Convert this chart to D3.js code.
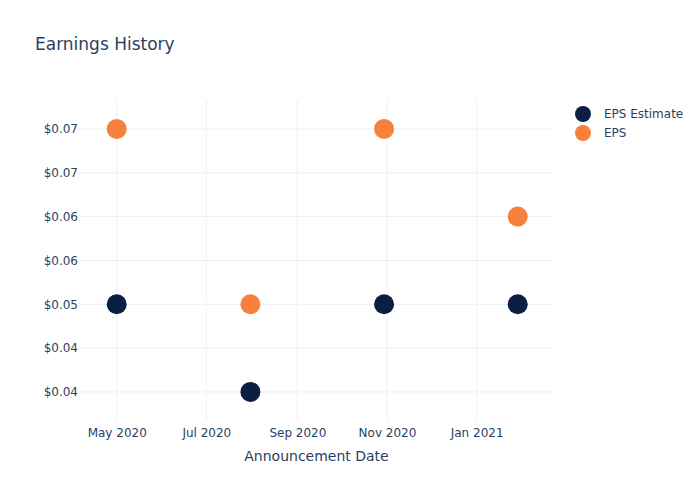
<!DOCTYPE html>
<html><head><meta charset="utf-8">
<script src="https://cdn.jsdelivr.net/npm/d3@7"></script>
<style>body{margin:0;background:#fff}text{font-family:"DejaVu Sans",Verdana,sans-serif}</style>
</head><body><svg id="c" width="700" height="500"></svg>
<script>
const dates = ["2020-05-01","2020-07-31","2020-10-30","2021-01-29"];
const epsEstimate = [0.05, 0.04, 0.05, 0.05];
const eps = [0.07, 0.05, 0.07, 0.06];
const yTicks = [0.04, 0.045, 0.05, 0.055, 0.06, 0.065, 0.07];
const xTicks = ["2020-05-01","2020-07-01","2020-09-01","2020-11-01","2021-01-01"];
const seriesNames = ["EPS Estimate","EPS"];
const colors = ["#0b1f42","#f7803a"];

const parse = d3.utcParse("%Y-%m-%d");
const svg = d3.select("#c");
const m = {l:80, r:147, t:100, b:80};
const W = 700, H = 500;
const x = d3.scaleUtc().domain([parse("2020-04-06"), parse("2021-02-22")]).range([m.l, W-m.r]);
const y = d3.scaleLinear().domain([0.0368, 0.0733]).range([H-m.b, m.t]);
const txt = "#2a3f5f", grid = "#ebf0f8";

// gridlines
svg.append("g").selectAll("line").data(yTicks).join("line")
  .attr("x1", m.l).attr("x2", W-m.r).attr("y1", d=>y(d)).attr("y2", d=>y(d))
  .attr("stroke", grid).attr("stroke-width",1);
svg.append("g").selectAll("line").data(xTicks).join("line")
  .attr("x1", d=>x(parse(d))).attr("x2", d=>x(parse(d))).attr("y1", m.t).attr("y2", H-m.b)
  .attr("stroke", grid).attr("stroke-width",1);

// axes
const yAxis = d3.axisLeft(y).tickValues(yTicks).tickSize(0).tickPadding(2)
  .tickFormat(d => "$" + d.toFixed(2));
const gy = svg.append("g").attr("transform", `translate(${m.l},0)`).call(yAxis);
gy.select(".domain").remove();
gy.selectAll("text").attr("fill", txt).style("font-size","12px").attr("dy","0.32em");

const xAxis = d3.axisBottom(x).tickValues(xTicks.map(parse)).tickSize(0).tickPadding(8)
  .tickFormat(d3.utcFormat("%b %Y"));
const gx = svg.append("g").attr("transform", `translate(0,${H-m.b})`).call(xAxis);
gx.select(".domain").remove();
gx.selectAll("text").attr("fill", txt).style("font-size","12px");

// axis title
svg.append("text").attr("x", (m.l + W - m.r)/2).attr("y", 461).attr("text-anchor","middle")
  .attr("fill", txt).style("font-size","14px").text("Announcement Date");
// title
svg.append("text").attr("x", 35).attr("y", 50).attr("fill", txt).style("font-size","17px").text("Earnings History");

// points
const series = [epsEstimate, eps];
series.forEach((vals, si) => {
  svg.append("g").selectAll("circle").data(vals).join("circle")
    .attr("cx", (d,i)=>x(parse(dates[i]))).attr("cy", d=>y(d)).attr("r", 10)
    .attr("fill", colors[si]);
});

// legend
const lg = svg.append("g");
seriesNames.forEach((n, i) => {
  lg.append("circle").attr("cx", 583).attr("cy", 114 + i*19).attr("r", 8).attr("fill", colors[i]);
  lg.append("text").attr("x", 604).attr("y", 114 + i*19).attr("dy","0.35em")
    .attr("fill", txt).style("font-size","12px").text(n);
});
</script></body></html>
